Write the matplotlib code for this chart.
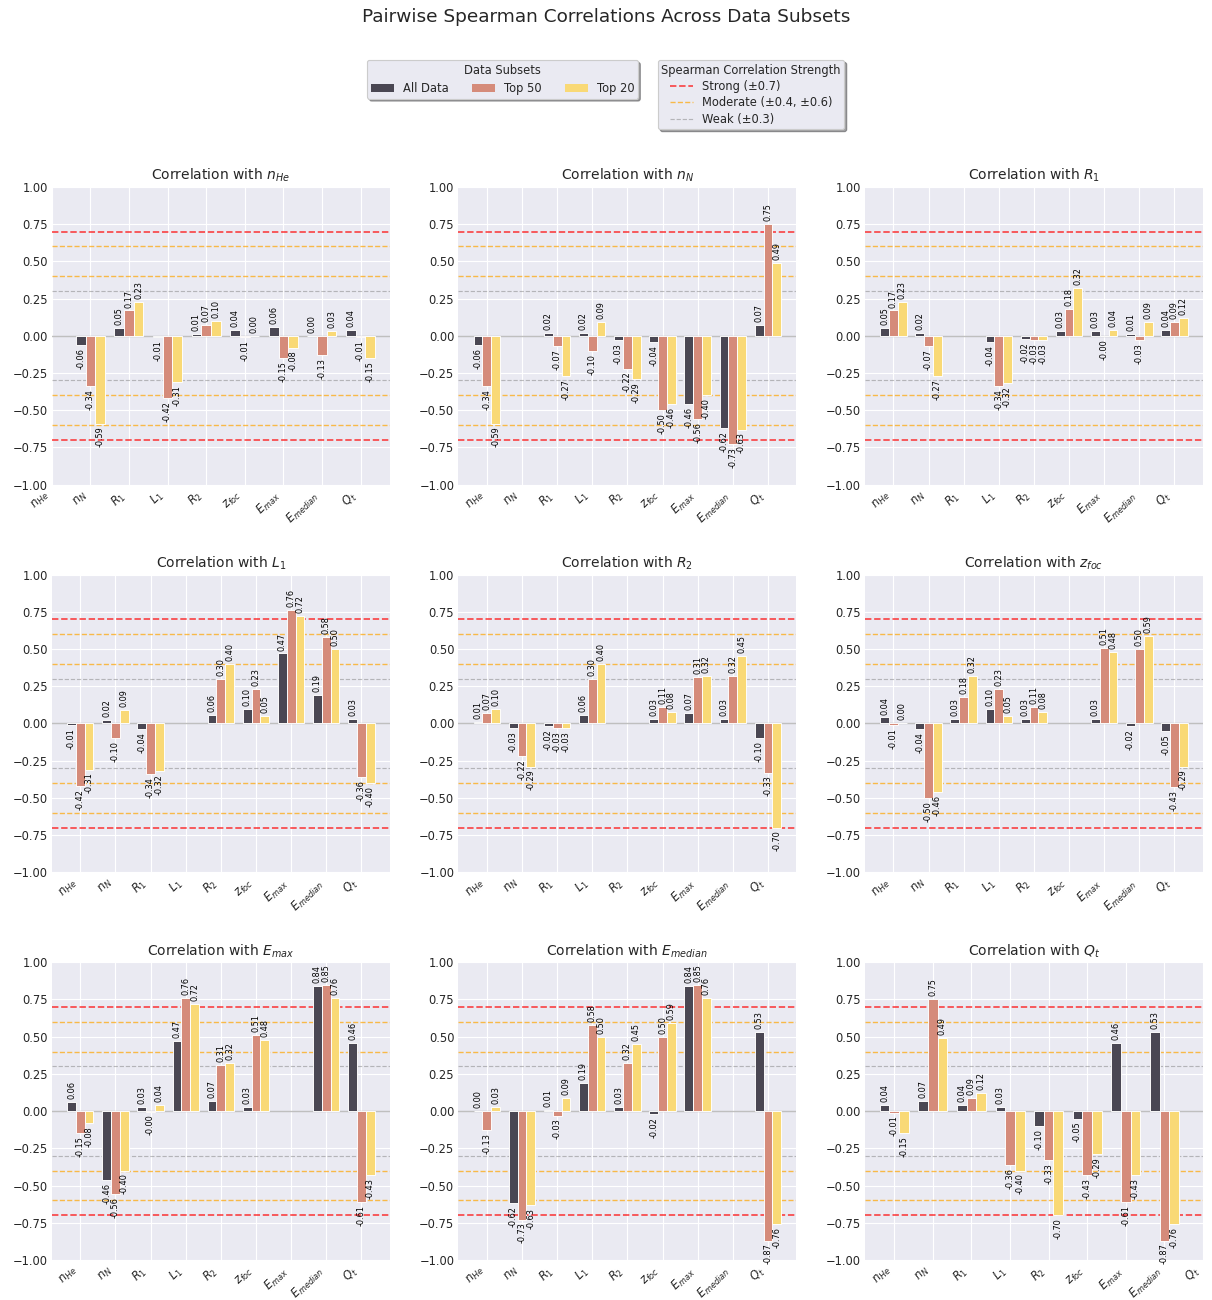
import numpy as np
import matplotlib
matplotlib.use("Agg")
import matplotlib.pyplot as plt
from matplotlib.patches import Patch
from matplotlib.lines import Line2D

# Variables compared and their axis labels
variables = ["n_He", "n_N", "R1", "L1", "R2", "z_foc", "E_max", "E_median", "Q_t"]
tick_labels = [r"$n_{He}$", r"$n_N$", r"$R_1$", r"$L_1$", r"$R_2$",
               r"$z_{foc}$", r"$E_{max}$", r"$E_{median}$", r"$Q_t$"]

subset_names = ["All Data", "Top 50", "Top 20"]
subset_colors = ["#4A4753", "#D58B7A", "#F9D976"]

# Spearman coefficients, upper triangle row by row:
# (n_He,n_N), (n_He,R1), ..., (n_He,Q_t), (n_N,R1), ..., (E_median,Q_t)
rho_all = [
    -0.06, 0.05, -0.01, 0.01, 0.04, 0.06, 0.00, 0.04,
    0.02, 0.02, -0.03, -0.04, -0.46, -0.62, 0.07,
    -0.04, -0.02, 0.03, 0.03, 0.01, 0.04,
    0.06, 0.10, 0.47, 0.19, 0.03,
    0.03, 0.07, 0.03, -0.10,
    0.03, -0.02, -0.05,
    0.84, 0.46,
    0.53,
]
rho_top50 = [
    -0.34, 0.17, -0.42, 0.07, -0.01, -0.15, -0.13, -0.01,
    -0.07, -0.10, -0.22, -0.50, -0.56, -0.73, 0.75,
    -0.34, -0.03, 0.18, -0.004, -0.03, 0.09,
    0.30, 0.23, 0.76, 0.58, -0.36,
    0.11, 0.31, 0.32, -0.33,
    0.51, 0.50, -0.43,
    0.85, -0.61,
    -0.87,
]
rho_top20 = [
    -0.59, 0.23, -0.31, 0.10, 0.00, -0.08, 0.03, -0.15,
    -0.27, 0.09, -0.29, -0.46, -0.40, -0.63, 0.49,
    -0.32, -0.03, 0.32, 0.04, 0.09, 0.12,
    0.40, 0.05, 0.72, 0.50, -0.40,
    0.08, 0.32, 0.45, -0.70,
    0.48, 0.59, -0.29,
    0.76, -0.43,
    -0.76,
]

# Reference levels for correlation strength
strong_level = [0.7]
moderate_levels = [0.4, 0.6]
weak_level = [0.3]


def to_matrix(upper):
    n = len(variables)
    m = np.full((n, n), np.nan)
    iu = np.triu_indices(n, k=1)
    m[iu] = upper
    m.T[iu] = upper
    return m


matrices = [to_matrix(rho_all), to_matrix(rho_top50), to_matrix(rho_top20)]

plt.rcParams.update({
    "font.family": "DejaVu Sans",
    "axes.facecolor": "#EAEAF2",
    "axes.edgecolor": "white",
    "axes.linewidth": 0,
    "axes.grid": True,
    "axes.axisbelow": True,
    "grid.color": "white",
    "grid.linewidth": 1.0,
    "text.color": ".15",
    "xtick.color": ".15",
    "ytick.color": ".15",
    "xtick.major.size": 0,
    "ytick.major.size": 0,
    "xtick.labelsize": 10,
    "ytick.labelsize": 10,
    "axes.titlesize": 12,
})

DPI = 83
fig, axes = plt.subplots(3, 3, figsize=(1212 / DPI, 1300 / DPI), dpi=DPI)
fig.subplots_adjust(left=0.0427, right=0.9926, top=0.8562, bottom=0.0308,
                    wspace=0.202, hspace=0.302)

width = 0.25
n = len(variables)

for k, ax in enumerate(axes.flat):
    others = np.array([j for j in range(n) if j != k])

    for lvl in strong_level:
        for sgn in (1, -1):
            ax.axhline(sgn * lvl, color="red", linestyle="--", linewidth=1.5,
                       alpha=0.7, zorder=1)
    for lvl in moderate_levels:
        for sgn in (1, -1):
            ax.axhline(sgn * lvl, color="orange", linestyle="--", linewidth=1.2,
                       alpha=0.7, zorder=1)
    for lvl in weak_level:
        for sgn in (1, -1):
            ax.axhline(sgn * lvl, color="gray", linestyle="--", linewidth=1.0,
                       alpha=0.5, zorder=1)
    ax.axhline(0, color="gray", linewidth=1.2, alpha=0.5, zorder=1)

    for s, (mat, name, color) in enumerate(zip(matrices, subset_names, subset_colors)):
        xpos = others + (s - 1) * width
        vals = mat[k, others]
        ax.bar(xpos, vals, width, color=color, edgecolor="white",
               linewidth=0.8, label=name, zorder=2)
        for xi, v in zip(xpos, vals):
            if v >= 0:
                ax.text(xi, v + 0.02, f"{v:.2f}", rotation=90, ha="center",
                        va="bottom", fontsize=7, color="black", zorder=3)
            else:
                ax.text(xi, v - 0.02, f"{v:.2f}", rotation=90, ha="center",
                        va="top", fontsize=7, color="black", zorder=3)

    ax.set_ylim(-1, 1)
    ax.set_yticks(np.arange(-1, 1.01, 0.25))
    ax.yaxis.set_major_formatter("{x:.2f}")
    ax.set_title(f"Correlation with {tick_labels[k]}")
    ax.set_xticks(range(n))
    ax.set_xticklabels(tick_labels, rotation=45, ha="right")

fig.suptitle("Pairwise Spearman Correlations Across Data Subsets",
             fontsize=16, y=0.987, va="center")

subset_handles = [Patch(facecolor=c, label=nm) for c, nm in zip(subset_colors, subset_names)]
fig.legend(handles=subset_handles, title="Data Subsets", ncol=3,
           loc="upper right", bbox_to_anchor=(0.5264, 0.9538), borderaxespad=0,
           frameon=True, shadow=True, fancybox=True, facecolor="#EAEAF2",
           edgecolor="0.8", fontsize=10, title_fontsize=10, borderpad=0.3)

strength_handles = [
    Line2D([0], [0], color="red", linestyle="--", linewidth=1.5, alpha=0.7,
           label="Strong (±0.7)"),
    Line2D([0], [0], color="orange", linestyle="--", linewidth=1.2, alpha=0.7,
           label="Moderate (±0.4, ±0.6)"),
    Line2D([0], [0], color="gray", linestyle="--", linewidth=1.0, alpha=0.5,
           label="Weak (±0.3)"),
]
fig.legend(handles=strength_handles, title="Spearman Correlation Strength",
           loc="upper left", bbox_to_anchor=(0.5429, 0.9538), borderaxespad=0,
           frameon=True, shadow=True, fancybox=True, facecolor="#EAEAF2",
           edgecolor="0.8", fontsize=10, title_fontsize=10, borderpad=0.3,
           labelspacing=0.3)

fig.savefig("out.png", dpi=DPI)
